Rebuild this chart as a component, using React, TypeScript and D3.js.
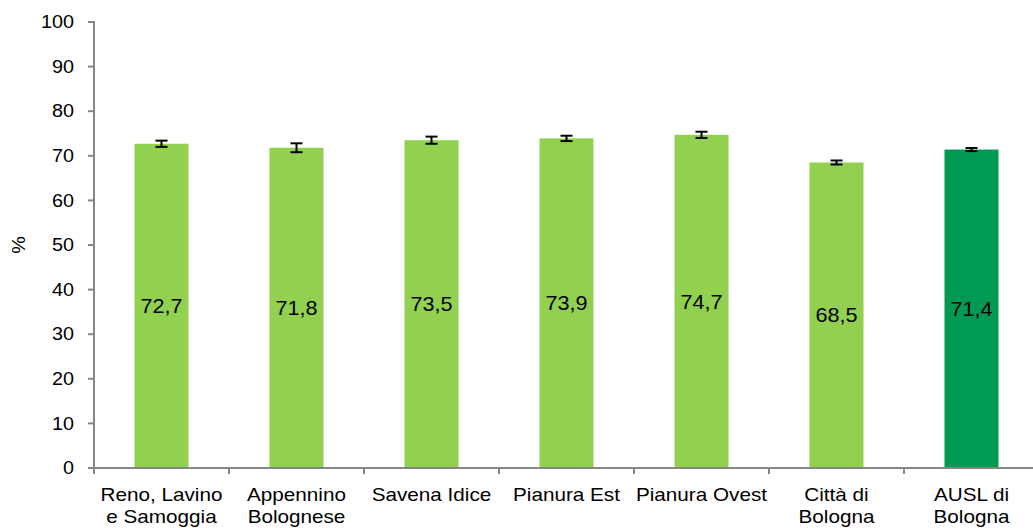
import * as d3 from "d3"
import { useEffect, useRef } from "react"

const categories = [
    ["Reno, Lavino", "e Samoggia"],
    ["Appennino", "Bolognese"],
    ["Savena Idice"],
    ["Pianura Est"],
    ["Pianura Ovest"],
    ["Città di", "Bologna"],
    ["AUSL di", "Bologna"],
]
const values = [72.7, 71.8, 73.5, 73.9, 74.7, 68.5, 71.4]
const lower = [72.0, 70.8, 72.7, 73.3, 74.0, 68.05, 71.05]
const upper = [73.4, 72.8, 74.3, 74.5, 75.4, 68.95, 71.75]
const yTicks = [0, 10, 20, 30, 40, 50, 60, 70, 80, 90, 100]

export default function App() {
    const svgRef = useRef<SVGSVGElement>(null)

    useEffect(() => {
        const width = 1033
        const height = 528
        const marginLeft = 94
        const marginTop = 22
        const plotRight = 1039
        const plotBottom = 468
        const font = "'Liberation Sans', Arial, sans-serif"
        const axisGrey = "#868686"

        if (svgRef.current !== null) {
            svgRef.current.innerHTML = ""
        }

        const svg = d3.select(svgRef.current)
            .attr("width", width)
            .attr("height", height)
            .style("position", "absolute")
            .style("left", "0px")
            .style("top", "0px")
            .style("font-family", font)

        const idx = categories.map((_, i) => i)
        const x = d3.scaleBand<number>(idx, [marginLeft, plotRight]).paddingInner(0.6).paddingOuter(0.3)
        const band = d3.scaleBand<number>(idx, [marginLeft, plotRight])
        const y = d3.scaleLinear([0, 100], [plotBottom, marginTop])

        // y axis
        svg.append("line")
            .attr("x1", marginLeft).attr("x2", marginLeft)
            .attr("y1", marginTop - 1).attr("y2", plotBottom)
            .attr("stroke", axisGrey).attr("stroke-width", 2)
        const yt = svg.append("g")
            .selectAll("g")
            .data(yTicks)
            .join("g")
        yt.append("line")
            .attr("x1", marginLeft - 6).attr("x2", marginLeft)
            .attr("y1", d => y(d)).attr("y2", d => y(d))
            .attr("stroke", axisGrey).attr("stroke-width", 2)
        yt.append("text")
            .attr("transform", d => `translate(${marginLeft - 20},${y(d)}) scale(1.1,1)`)
            .attr("text-anchor", "end")
            .attr("dominant-baseline", "central")
            .style("font-size", "18px")
            .text(d => d)

        svg.append("text")
            .attr("transform", `translate(19,${(marginTop + plotBottom) / 2}) rotate(-90) scale(1.1,1)`)
            .attr("text-anchor", "middle")
            .attr("dominant-baseline", "central")
            .style("font-size", "18px")
            .text("%")

        // bars
        svg.append("g")
            .selectAll("rect")
            .data(values)
            .join("rect")
            .attr("x", (_, i) => x(i)!)
            .attr("width", x.bandwidth())
            .attr("y", d => y(d))
            .attr("height", d => plotBottom - y(d))
            .attr("fill", (_, i) => i === values.length - 1 ? "#009A54" : "#92D050")

        // x axis
        const xAxis = svg.append("g")
        xAxis.append("line")
            .attr("x1", marginLeft).attr("x2", plotRight)
            .attr("y1", plotBottom).attr("y2", plotBottom)
            .attr("stroke", axisGrey).attr("stroke-width", 2)
        xAxis.selectAll("line.tick")
            .data(d3.range(categories.length + 1))
            .join("line")
            .attr("class", "tick")
            .attr("x1", i => i < categories.length ? band(i)! : plotRight)
            .attr("x2", i => i < categories.length ? band(i)! : plotRight)
            .attr("y1", plotBottom).attr("y2", plotBottom + 6)
            .attr("stroke", axisGrey).attr("stroke-width", 2)

        const labels = svg.append("g")
            .selectAll("text")
            .data(categories)
            .join("text")
            .attr("text-anchor", "middle")
            .style("font-size", "18px")
            .attr("transform", (_, i) => `translate(${band(i)! + band.bandwidth() / 2},501) scale(1.15,1)`)
        labels.selectAll("tspan")
            .data(d => d)
            .join("tspan")
            .attr("x", 0)
            .attr("dy", (_, j) => j === 0 ? 0 : 22)
            .text(d => d)

        // error bars
        const err = svg.append("g").attr("stroke", "#000").attr("stroke-width", 2)
        idx.forEach(i => {
            const cx = x(i)! + x.bandwidth() / 2
            err.append("line").attr("x1", cx).attr("x2", cx).attr("y1", y(lower[i])).attr("y2", y(upper[i]))
            err.append("line").attr("x1", cx - 6).attr("x2", cx + 6).attr("y1", y(lower[i])).attr("y2", y(lower[i]))
            err.append("line").attr("x1", cx - 6).attr("x2", cx + 6).attr("y1", y(upper[i])).attr("y2", y(upper[i]))
        })

        // value labels
        svg.append("g")
            .selectAll("text")
            .data(values)
            .join("text")
            .attr("text-anchor", "middle")
            .attr("dominant-baseline", "central")
            .style("font-size", "20px")
            .attr("transform", (d, i) => `translate(${x(i)! + x.bandwidth() / 2},${y(d / 2)}) scale(1.08,1)`)
            .text(d => d.toFixed(1).replace(".", ","))
    }, [])

    return <svg ref={svgRef}></svg>
}
